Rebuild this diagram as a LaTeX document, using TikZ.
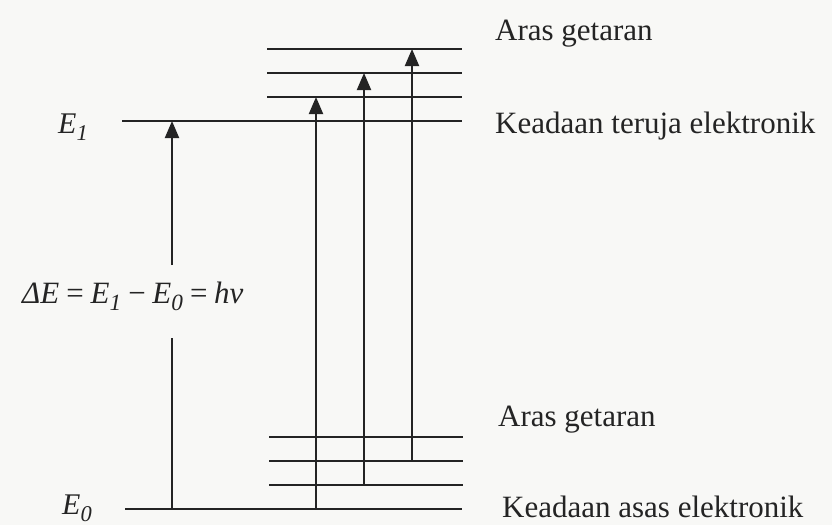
\documentclass[tikz,border=0pt]{standalone}
\usepackage{fontspec}
\setmainfont{Liberation Serif}
\usetikzlibrary{arrows.meta}
\definecolor{ink}{RGB}{36,36,36}
\definecolor{paper}{RGB}{248,248,246}
\newcommand{\lsub}[1]{\raisebox{-0.24em}{\scalebox{0.75}{#1}}}
\begin{document}
\begin{tikzpicture}[x=1pt,y=-1pt,
  lvl/.style={draw=ink,line width=2.6pt},
  arr/.style={draw=ink,line width=2pt,-{Triangle[length=17pt,width=14pt]}},
  seg/.style={draw=ink,line width=2pt},
  lab/.style={anchor=base west,inner sep=0pt,text=ink,font=\fontsize{31}{36}\selectfont},
  elab/.style={anchor=base west,inner sep=0pt,text=ink,font=\fontsize{30}{34}\selectfont\itshape},
  dlab/.style={anchor=base west,inner sep=0pt,text=ink,font=\fontsize{31}{36}\selectfont\itshape}]
\fill[paper] (0,0) rectangle (832,525);
\useasboundingbox (0,0) rectangle (832,525);

% level end points
\coordinate (u3a) at (267,49);  \coordinate (u3b) at (462,49);
\coordinate (u2a) at (267,73);  \coordinate (u2b) at (462,73);
\coordinate (u1a) at (267,97);  \coordinate (u1b) at (462,97);
\coordinate (e1a) at (122,121); \coordinate (e1b) at (462,121);
\coordinate (l3a) at (269,437); \coordinate (l3b) at (463,437);
\coordinate (l2a) at (269,461); \coordinate (l2b) at (463,461);
\coordinate (l1a) at (269,485); \coordinate (l1b) at (463,485);
\coordinate (e0a) at (125,509); \coordinate (e0b) at (462,509);

\foreach \p in {u3,u2,u1,e1,l3,l2,l1,e0}{\draw[lvl] (\p a) -- (\p b);}

% arrow end points
\coordinate (aS) at (172,509); \coordinate (aGb) at (172,338);
\coordinate (aGt) at (172,265); \coordinate (aE) at (172,121);
\coordinate (bS) at (316,509); \coordinate (bE) at (316,97);
\coordinate (cS) at (364,485); \coordinate (cE) at (364,73);
\coordinate (dS) at (412,461); \coordinate (dE) at (412,49);

\draw[seg] (aS) -- (aGb);
\draw[arr] (aGt) -- (aE);
\draw[arr] (bS) -- (bE);
\draw[arr] (cS) -- (cE);
\draw[arr] (dS) -- (dE);

% labels
\node[lab] (t1) at (495,40) {Aras getaran};
\node[lab] (t2) at (495,133) {Keadaan teruja elektronik};
\node[lab] (t3) at (498,426) {Aras getaran};
\node[lab] (t4) at (502,517) {Keadaan asas elektronik};

\node[elab] (lE1) at (58,133) {E\lsub{1}};
\node[elab] (lE0) at (62,514) {E\lsub{0}};
\node[dlab] (lDE) at (22,303) {ΔE\,=\,E\lsub{1}\,−\,E\lsub{0}\,=\,hν};
\end{tikzpicture}
\end{document}
